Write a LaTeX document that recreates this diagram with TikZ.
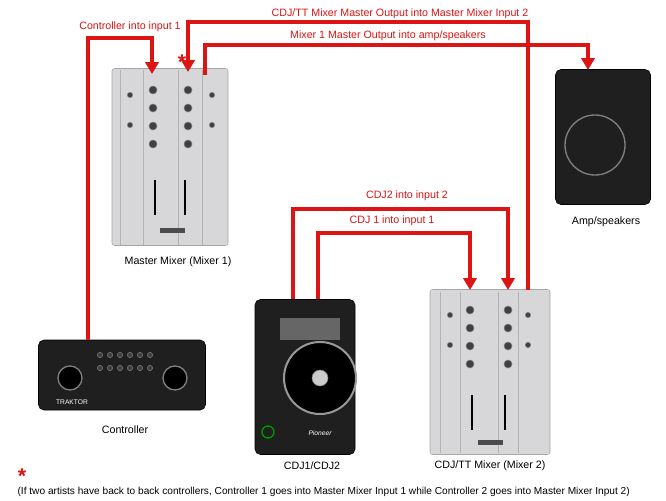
\documentclass[tikz,border=0pt]{standalone}
\usepackage{fontspec}
\setmainfont{Liberation Sans}
\usetikzlibrary{arrows.meta}
\definecolor{wire}{RGB}{220,20,20}
\definecolor{silver}{RGB}{215,215,218}
\begin{document}
\begin{tikzpicture}[x=0.75pt,y=-0.75pt,
  wire/.style={draw=wire,line width=2.6pt,-{Triangle[length=9pt,width=10pt]}},
  lbl/.style={font=\fontsize{8}{9}\selectfont,text=wire,inner sep=1pt},
  devlbl/.style={font=\fontsize{8}{9}\selectfont,inner sep=1pt},
  mixer/.style={draw=gray!70,fill=silver,rounded corners=2pt,inner sep=0pt},
  dark/.style={draw=black,fill=black!88,rounded corners=4pt,inner sep=0pt},
  knob/.style={circle,fill=black!75,draw=gray,inner sep=0pt,minimum size=6pt}]
\useasboundingbox (0,0) rectangle (666,500);
\fill[white] (0,0) rectangle (666,500);
% master mixer
\node[mixer,minimum width=116pt*0.75,minimum height=177pt*0.75] (m1) at (170,157) {};
\foreach \cx in {130,153,188,212}{\draw[gray!60] (\cx-10,70) -- (\cx-10,245);}
\foreach \cx in {153,188}{\foreach \cy in {90,108,126,144}{\node[knob] at (\cx,\cy) {};}}
\foreach \cx in {130,212}{\foreach \cy in {95,125}{\node[knob,minimum size=4pt] at (\cx,\cy) {};}}
\draw[black,line width=1.5pt] (155,180)--(155,215) (185,180)--(185,215);
\fill[black!70] (160,228) rectangle (185,233);
\node[devlbl] (m1l) at (178,262) {Master Mixer (Mixer 1)};
% mixer 2
\node[mixer,minimum width=120pt*0.75,minimum height=165pt*0.75] (m2) at (490,372) {};
\foreach \cx in {450,470,508,528}{\draw[gray!60] (\cx-10,292) -- (\cx-10,453);}
\foreach \cx in {470,508}{\foreach \cy in {310,328,346,364}{\node[knob] at (\cx,\cy) {};}}
\foreach \cx in {450,528}{\foreach \cy in {315,345}{\node[knob,minimum size=4pt] at (\cx,\cy) {};}}
\draw[black,line width=1.5pt] (472,395)--(472,430) (505,395)--(505,430);
\fill[black!70] (478,440) rectangle (503,445);
\node[devlbl] (m2l) at (490,466) {CDJ/TT Mixer (Mixer 2)};
% speaker
\node[dark,minimum width=95pt*0.75,minimum height=135pt*0.75] (amp) at (603,137) {};
\draw[gray,line width=1pt] (595,145) circle (30pt*0.75);
\node[devlbl] (ampl) at (606,222) {Amp/speakers};
% controller
\node[dark,minimum width=167pt*0.75,minimum height=70pt*0.75] (ctl) at (122,375) {};
\foreach \cx in {70,175}{\draw[gray,line width=1pt,fill=black] (\cx,378) circle (12pt*0.75);}
\foreach \cx in {100,110,120,130,140,150}{\foreach \cy in {355,368}{\node[knob,minimum size=4pt] at (\cx,\cy) {};}}
\node[font=\fontsize{5}{5}\selectfont,text=white] at (72,402) {TRAKTOR};
\node[devlbl] (ctll) at (125,430) {Controller};
% CDJ
\node[dark,minimum width=100pt*0.75,minimum height=155pt*0.75] (cdj) at (305,377) {};
\draw[gray!80,line width=1.5pt,fill=black] (320,378) circle (36pt*0.75);
\draw[gray,fill=gray!40] (320,378) circle (8pt*0.75);
\fill[black!60] (280,318) rectangle (340,340);
\draw[green!60!black,line width=1pt] (268,432) circle (6pt*0.75);
\node[font=\fontsize{5}{5}\selectfont\itshape,text=white] at (320,433) {Pioneer};
\node[devlbl] (cdjl) at (312,466) {CDJ1/CDJ2};
% wires
\coordinate (a1) at (88,340); \coordinate (a2) at (152,74);
\draw[wire] (a1) |- (152,38) -- (a2);
\node[lbl] at (130,27) {Controller into input 1};
\coordinate (b1) at (528,290); \coordinate (b2) at (188,72);
\draw[wire] (b1) |- (188,22) -- (b2);
\node[lbl] at (400,14) {CDJ/TT Mixer Master Output into Master Mixer Input 2};
\coordinate (c1) at (205,75); \coordinate (c2) at (588,70);
\draw[wire] (c1) |- (588,45) -- (c2);
\node[lbl] at (388,36) {Mixer 1 Master Output into amp/speakers};
\coordinate (d1) at (293,299); \coordinate (d2) at (508,290);
\draw[wire] (d1) |- (508,209) -- (d2);
\node[lbl] at (407,196) {CDJ2 into input 2};
\coordinate (e1) at (318,299); \coordinate (e2) at (470,290);
\draw[wire] (e1) |- (470,233) -- (e2);
\node[lbl] at (392,221) {CDJ 1 into input 1};
\node[text=wire,font=\bfseries\fontsize{16}{16}\selectfont] at (182,62) {*};
\node[text=wire,font=\bfseries\fontsize{16}{16}\selectfont] at (22,476) {*};
\node[devlbl,anchor=west,font=\fontsize{7.6}{9}\selectfont] at (16,492) {(If two artists have back to back controllers, Controller 1 goes into Master Mixer Input 1 while Controller 2 goes into Master Mixer Input 2)};
\end{tikzpicture}
\end{document}
